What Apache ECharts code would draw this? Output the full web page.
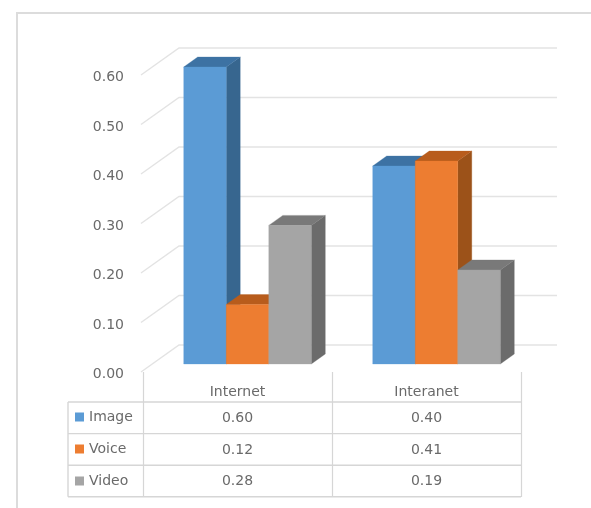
<!DOCTYPE html>
<html>
<head>
<meta charset="utf-8">
<style>html,body{margin:0;padding:0;background:#fff}#chart{width:591px;height:508px}</style>
<script src="https://cdn.jsdelivr.net/npm/echarts@6/dist/echarts.min.js"></script>
</head>
<body>
<div id="chart"></div>
<script>
// Traffic share per network type
const categories = ['Internet', 'Interanet'];
const seriesNames = ['Image', 'Voice', 'Video'];
const imageValues = [0.60, 0.40];
const voiceValues = [0.12, 0.41];
const videoValues = [0.28, 0.19];
const yTicks = [0, 0.1, 0.2, 0.3, 0.4, 0.5, 0.6];

const FONT = '"DejaVu Sans", sans-serif';
const TEXT = '#6a6a6a';
const RULE = '#d6d6d6';
const WALL = '#e3e3e3';

// Face colours of the extruded columns: front, side, top
const faces = [
  { front: '#5b9bd5', side: '#37668f', top: '#3d72a3' },
  { front: '#ed7d31', side: '#9c5219', top: '#b85c1c' },
  { front: '#a5a5a5', side: '#6b6b6b', top: '#797979' }
];

// Extrusion offsets in pixels
const WALL_DX = 36, WALL_DY = -27;   // front plane to back wall
const BASE_DX = 10, BASE_DY = -8;    // front plane to column front
const BAR_DX = 14, BAR_DY = -10;     // column depth
const BAR_RATIO = 0.225;             // column width as a share of the category band

// Table row layout below the plot
const ROW_TOP = 402, ROW_H = 31.6, TABLE_LEFT = 68;

function poly(points, fill) {
  return { type: 'polygon', shape: { points }, style: { fill, stroke: fill, lineWidth: 0.3 } };
}

// Column drawn as three faces, in series order so later columns overlap earlier ones
function columnRenderer(idx) {
  return function (params, api) {
    const cat = api.value(0);
    const base = api.coord([cat, 0]);
    const top = api.coord([cat, api.value(1)]);
    const w = api.size([1, 0])[0] * BAR_RATIO;
    const x0 = base[0] + BASE_DX + (idx - 1.5) * w;
    const x1 = x0 + w;
    const yB = base[1] + BASE_DY;
    const yT = top[1] + BASE_DY;
    const c = faces[idx];
    return {
      type: 'group',
      children: [
        poly([[x1, yT], [x1 + BAR_DX, yT + BAR_DY], [x1 + BAR_DX, yB + BAR_DY], [x1, yB]], c.side),
        poly([[x0, yT], [x0 + BAR_DX, yT + BAR_DY], [x1 + BAR_DX, yT + BAR_DY], [x1, yT]], c.top),
        poly([[x0, yT], [x1, yT], [x1, yB], [x0, yB]], c.front)
      ]
    };
  };
}

// Gridline running along the side wall and across the back wall
function wallRenderer(params, api) {
  const p = api.coord([0, api.value(0)]);
  const band = api.size([1, 0])[0];
  const left = p[0] - band / 2;
  const right = left + band * categories.length;
  return {
    type: 'polyline',
    shape: { points: [[left - 2, p[1]], [left + WALL_DX, p[1] + WALL_DY], [right + WALL_DX, p[1] + WALL_DY]] },
    style: { stroke: WALL, lineWidth: 1.4, fill: null }
  };
}

// Horizontal rules of the data table and its left edge
function tableRulesRenderer(params, api) {
  const p = api.coord([0, 0]);
  const band = api.size([1, 0])[0];
  const right = p[0] + band * (categories.length - 0.5);
  const children = [];
  for (let r = 0; r <= seriesNames.length; r++) {
    const y = ROW_TOP + r * ROW_H;
    children.push({ type: 'line', shape: { x1: TABLE_LEFT, y1: y, x2: right, y2: y }, style: { stroke: RULE, lineWidth: 1.4 } });
  }
  children.push({
    type: 'line',
    shape: { x1: TABLE_LEFT, y1: ROW_TOP, x2: TABLE_LEFT, y2: ROW_TOP + seriesNames.length * ROW_H },
    style: { stroke: RULE, lineWidth: 1.4 }
  });
  return { type: 'group', children };
}

// Value cell of the data table
function cellRenderer(params, api) {
  const x = api.coord([api.value(0), 0])[0];
  const y = ROW_TOP + (api.value(1) + 0.5) * ROW_H + 0.7;
  return {
    type: 'text',
    style: {
      x, y,
      text: api.value(2).toFixed(2),
      align: 'center', verticalAlign: 'middle',
      font: '14px ' + FONT,
      fill: TEXT
    }
  };
}

const valueSets = [imageValues, voiceValues, videoValues];
const cellData = [];
valueSets.forEach((vals, r) => vals.forEach((v, c) => cellData.push([c, r, v])));

const option = {
  animation: false,
  backgroundColor: '#ffffff',
  grid: { left: 143, top: 75, width: 378, height: 297, containLabel: false },
  xAxis: {
    type: 'category',
    data: categories,
    axisLine: { show: false },
    axisTick: { show: true, length: 125, lineStyle: { color: RULE, width: 1.2 } },
    axisLabel: { color: TEXT, fontFamily: FONT, fontSize: 14, margin: 13 }
  },
  yAxis: {
    type: 'value',
    min: 0,
    max: 0.6,
    interval: 0.1,
    axisLine: { show: false },
    axisTick: { show: false },
    splitLine: { show: false },
    axisLabel: {
      margin: 19,
      formatter: v => '{tick|' + v.toFixed(2) + '}',
      rich: {
        // Top padding nudges the tick text down onto the side-wall lines
        tick: { color: TEXT, fontFamily: FONT, fontSize: 14, padding: [5, 0, 0, 0] }
      }
    }
  },
  legend: {
    orient: 'vertical',
    left: 70,
    top: 405,
    itemWidth: 9,
    itemHeight: 9,
    itemGap: 18,
    icon: 'rect',
    selectedMode: false,
    data: seriesNames,
    textStyle: { color: TEXT, fontFamily: FONT, fontSize: 14 }
  },
  graphic: [
    // Outer chart frame, open at the page edges
    { type: 'line', silent: true, shape: { x1: 16, y1: 13, x2: 591, y2: 13 }, style: { stroke: '#dcdcdc', lineWidth: 2 } },
    { type: 'line', silent: true, shape: { x1: 17, y1: 13, x2: 17, y2: 508 }, style: { stroke: '#dcdcdc', lineWidth: 2 } }
  ],
  series: [
    {
      type: 'custom', name: 'walls', coordinateSystem: 'cartesian2d', silent: true, clip: false,
      renderItem: wallRenderer,
      encode: { y: 0 },
      data: yTicks.map(t => [t]),
      z: 1
    },
    ...seriesNames.map((name, i) => ({
      type: 'custom',
      name,
      coordinateSystem: 'cartesian2d',
      clip: false,
      silent: true,
      renderItem: columnRenderer(i),
      itemStyle: { color: faces[i].front },
      encode: { x: 0, y: 1 },
      data: valueSets[i].map((v, c) => [c, v]),
      z: 2 + i
    })),
    {
      type: 'custom', name: 'table rules', coordinateSystem: 'cartesian2d', silent: true, clip: false,
      renderItem: tableRulesRenderer,
      data: [[0, 0]],
      z: 6
    },
    {
      type: 'custom', name: 'table cells', coordinateSystem: 'cartesian2d', silent: true, clip: false,
      renderItem: cellRenderer,
      encode: { x: 0 },
      data: cellData,
      z: 7
    }
  ]
};

echarts.init(document.getElementById('chart'), null, { renderer: 'canvas' }).setOption(option);
</script>
</body>
</html>
